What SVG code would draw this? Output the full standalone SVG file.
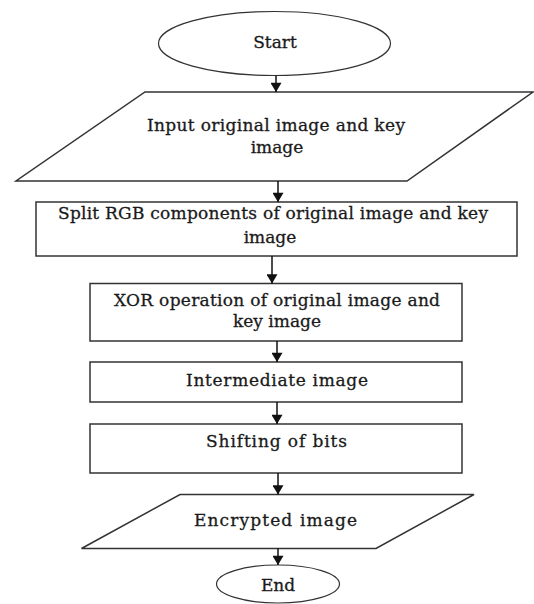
<svg xmlns="http://www.w3.org/2000/svg" width="534" height="604" viewBox="0 0 534 604">
<style>
.shape{fill:#fff;stroke:#333;stroke-width:1.5}
.oval{fill:#fff;stroke:#333;stroke-width:1.2}
.lbl{font-family:"DejaVu Serif","Liberation Serif",serif;font-size:17px;fill:#1a1a1a;stroke:#1a1a1a;stroke-width:0.3;text-anchor:middle}
.conn{stroke:#111;stroke-width:1.5;fill:none;marker-end:url(#ah)}
</style>
<defs>
<marker id="ah" viewBox="0 0 10 12" refX="10" refY="6" markerWidth="12" markerHeight="11" markerUnits="userSpaceOnUse" orient="auto">
<path d="M0,0 L10,6 L0,12 z" fill="#111"/>
</marker>
</defs>
<rect width="534" height="604" fill="#fff"/>
<g id="start">
<ellipse class="oval" cx="274.5" cy="43.5" rx="116" ry="32"/>
<text class="lbl" x="275" y="48">Start</text>
</g>
<g id="input">
<polygon class="shape" points="145,92 533,92 407,181 16,181"/>
<text class="lbl" x="276" y="131" textLength="258">Input original image and key</text>
<text class="lbl" x="277" y="153">image</text>
</g>
<g id="split">
<rect class="shape" x="36" y="202" width="481" height="54"/>
<text class="lbl" x="273" y="219" textLength="430">Split RGB components of original image and key</text>
<text class="lbl" x="270" y="243">image</text>
</g>
<g id="xor">
<rect class="shape" x="90" y="283.5" width="372" height="57.5"/>
<text class="lbl" x="277" y="306" textLength="326">XOR operation of original image and</text>
<text class="lbl" x="277" y="327">key image</text>
</g>
<g id="intermediate">
<rect class="shape" x="90" y="362" width="372" height="40"/>
<text class="lbl" x="277" y="386" textLength="182">Intermediate image</text>
</g>
<g id="shifting">
<rect class="shape" x="90" y="424" width="372" height="49"/>
<text class="lbl" x="276.5" y="447" textLength="141">Shifting of bits</text>
</g>
<g id="encrypted">
<polygon class="shape" points="180,494.5 474,494.5 376,548.5 81.5,548.5"/>
<text class="lbl" x="275.5" y="526" textLength="163">Encrypted image</text>
</g>
<g id="end">
<ellipse class="oval" cx="278" cy="584" rx="61.5" ry="19"/>
<text class="lbl" x="278" y="591">End</text>
</g>
<g id="connectors">
<line class="conn" x1="276" y1="75.5" x2="276" y2="92"/>
<line class="conn" x1="278" y1="181" x2="278" y2="202"/>
<line class="conn" x1="272" y1="256" x2="272" y2="283.5"/>
<line class="conn" x1="277" y1="341" x2="277" y2="362"/>
<line class="conn" x1="277" y1="402" x2="277" y2="424"/>
<line class="conn" x1="278" y1="473" x2="278" y2="494.5"/>
<line class="conn" x1="278" y1="548.5" x2="278" y2="565"/>
</g>
</svg>
